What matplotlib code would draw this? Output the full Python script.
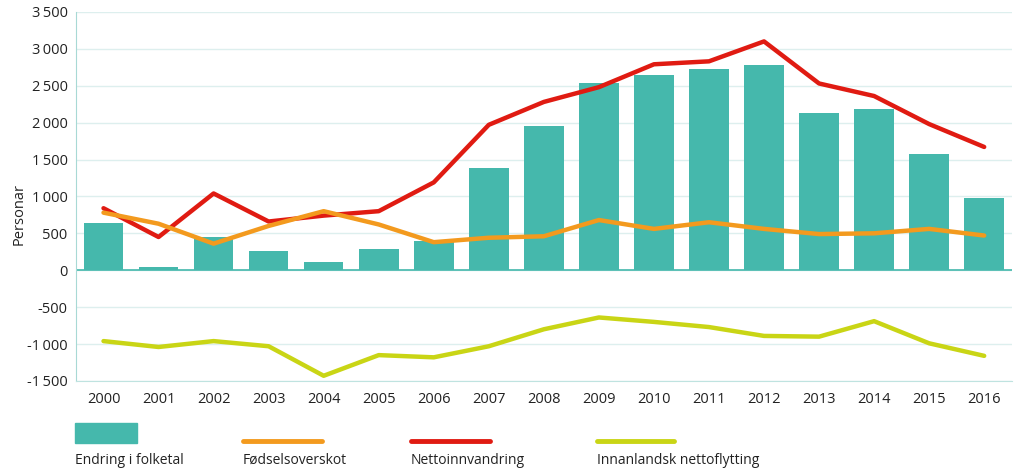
import matplotlib.pyplot as plt
from matplotlib.lines import Line2D
from matplotlib.patches import Rectangle
from matplotlib.ticker import FuncFormatter

years = [str(y) for y in range(2000, 2017)]
endring = [640, 40, 450, 260, 110, 285, 400, 1380, 1950, 2530, 2640, 2720, 2780, 2130, 2180, 1570, 980]
fodsel = [780, 630, 360, 600, 800, 620, 380, 440, 460, 680, 560, 650, 560, 490, 500, 560, 470]
netto_inn = [840, 450, 1040, 660, 740, 800, 1190, 1970, 2280, 2480, 2790, 2830, 3100, 2530, 2360, 1980, 1670]
innanlandsk = [-960, -1040, -960, -1030, -1430, -1150, -1180, -1030, -800, -640, -700, -770, -890, -900, -690, -990, -1160]

labels = ["Endring i folketal", "Fødselsoverskot", "Nettoinnvandring", "Innanlandsk nettoflytting"]
c_bar = "#45b8ac"
c_orange = "#f39a1e"
c_red = "#e01b12"
c_green = "#c9d515"

plt.rcParams['font.family'] = ['Open Sans', 'DejaVu Sans']

fig = plt.figure(figsize=(10.24, 4.75), dpi=100)
ax = fig.add_axes([0.0742, 0.198, 0.9138, 0.777])

x = range(len(years))
ax.bar(x, endring, width=0.72, color=c_bar, zorder=2)
ax.plot(x, netto_inn, color=c_red, lw=3.2, zorder=3, solid_capstyle="round")
ax.plot(x, fodsel, color=c_orange, lw=3.2, zorder=4, solid_capstyle="round")
ax.plot(x, innanlandsk, color=c_green, lw=3.2, zorder=3, solid_capstyle="round")

ax.set_xlim(-0.5, 16.5)
ax.set_ylim(-1500, 3500)
ax.set_yticks(range(-1500, 3501, 500))
ax.set_xticks(list(x))
ax.set_xticklabels(years)
ax.yaxis.set_major_formatter(FuncFormatter(lambda v, p: f"{int(v):,}".replace(",", "\u2009")))
ax.tick_params(length=0, labelsize=10.5, colors="#222222")
ax.tick_params(axis="x", pad=8)
ax.tick_params(axis="y", pad=6)

ax.grid(axis="y", color="#ddefee", lw=1, zorder=0)
ax.axhline(0, color="#45b8ac", lw=1.2, zorder=2)
for s in ["top", "right"]:
    ax.spines[s].set_visible(False)
ax.spines["left"].set_color("#a8d9d5")
ax.spines["bottom"].set_color("#bfe3e0")
ax.spines["bottom"].set_position(("data", -1500))

fig.text(19 / 1024, 1 - 214 / 475, "Personar", rotation=90, ha="center", va="center",
         fontsize=10.5, color="#222222")

# legend below the axes, labels under the handles
fig.add_artist(Rectangle((75 / 1024, 32 / 475), 62 / 1024, 20 / 475,
                         transform=fig.transFigure, color=c_bar))
line_items = [(243, 322, c_orange), (411, 490, c_red), (597, 674, c_green)]
for x0, x1, c in line_items:
    fig.add_artist(Line2D([x0 / 1024, x1 / 1024], [34 / 475, 34 / 475],
                          transform=fig.transFigure, color=c, lw=3.5,
                          solid_capstyle="round"))
for xl, lab in zip([75, 243, 411, 597], labels):
    fig.text(xl / 1024, 15 / 475, lab, ha="left", va="center", fontsize=10, color="#222222")

fig.savefig("out.png", dpi=100)
